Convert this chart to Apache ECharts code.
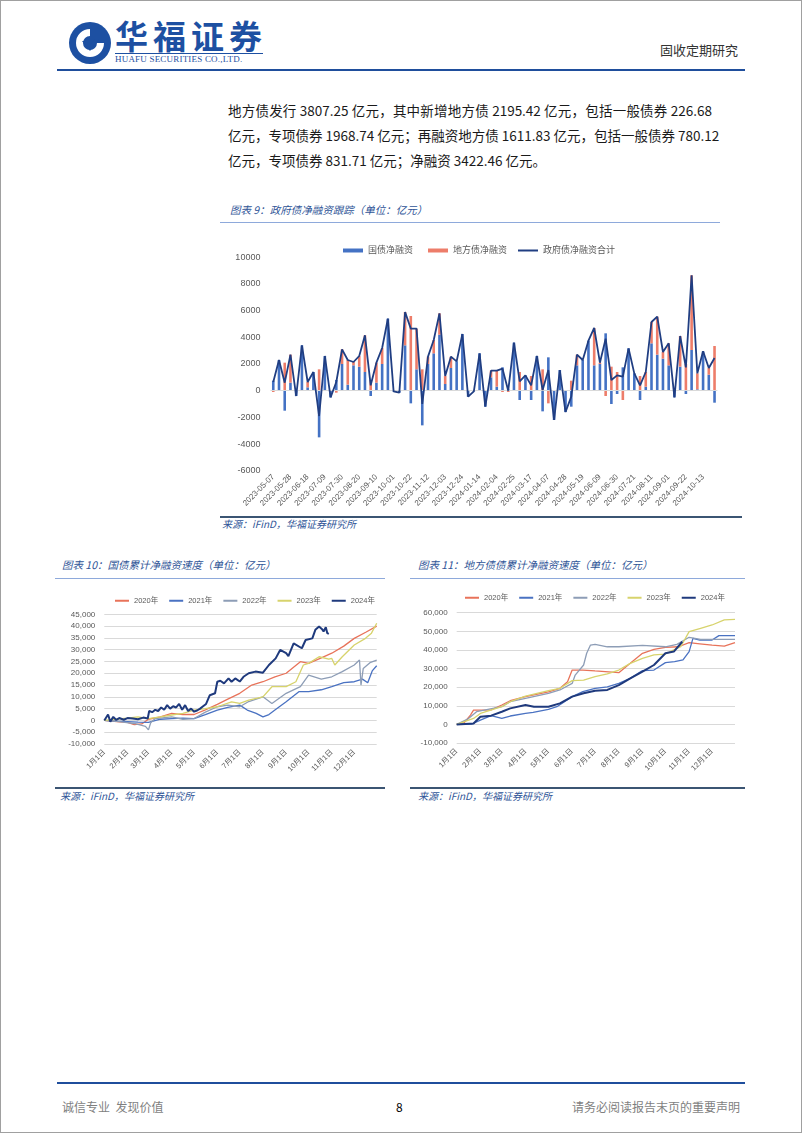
<!DOCTYPE html>
<html lang="zh-CN">
<head>
<meta charset="utf-8">
<title>政府债净融资跟踪</title>
<script src="https://cdn.jsdelivr.net/npm/echarts@6/dist/echarts.min.js"></script>
<style>
 html,body{margin:0;padding:0;background:#fff;}
 body{width:802px;height:1133px;position:relative;overflow:hidden;font-family:"Noto Sans CJK SC","Noto Sans",sans-serif;color:#222;}
 .a{position:absolute;white-space:nowrap;}
 .frame{position:absolute;left:0;top:0;width:800px;height:1131px;border:1px solid #a0a0a0;}
 .para{position:absolute;left:228px;width:484px;font-size:13.5px;line-height:18px;color:#1a1a1a;white-space:nowrap;}
 .just{text-align:justify;text-align-last:justify;}
 .ttl{position:absolute;font-style:italic;font-size:10.5px;line-height:14px;color:#2F5597;white-space:nowrap;}
 .tline{position:absolute;height:1px;background:#8EA9DB;}
 .bline{position:absolute;height:2px;background:#3B5573;}
 .src{position:absolute;font-style:italic;font-size:10px;line-height:12px;color:#2F5597;white-space:nowrap;}
 .chart{position:absolute;}
</style>
</head>
<body>
<div class="frame"></div>

<!-- header -->
<svg class="a" style="left:68px;top:21px" width="44" height="44" viewBox="0 0 44 44">
  <circle cx="22" cy="22" r="21" fill="#1D50A2"/>
  <path d="M22 8 A14 14 0 1 0 36 22 L29 22 A7 7 0 1 1 22 15 Z" fill="#fff"/>
  <path d="M14 20 L22 30 L31 18 L27 18 L22 24 L18 20 Z" fill="#1D50A2"/>
</svg>
<div class="a" style="left:115px;top:19px;font-size:33px;line-height:33px;font-weight:700;color:#1D50A2;letter-spacing:5px;">华福证券</div>
<div class="a" style="left:115px;top:53px;width:148px;height:1px;background:#1D50A2;"></div>
<div class="a" style="left:115px;top:55px;font-family:'Liberation Serif',serif;font-size:9px;line-height:9px;color:#1D50A2;letter-spacing:0.2px;">HUAFU SECURITIES CO.,LTD.</div>
<div class="a" style="left:660px;top:43px;font-size:13px;line-height:14px;color:#333;">固收定期研究</div>
<div class="a" style="left:57px;top:69px;width:688px;height:2px;background:#1F4E9C;"></div>

<!-- paragraph -->
<div class="para just" style="top:101px;">地方债发行 3807.25 亿元，其中新增地方债 2195.42 亿元，包括一般债券 226.68</div>
<div class="para just" style="top:126px;">亿元，专项债券 1968.74 亿元；再融资地方债 1611.83 亿元，包括一般债券 780.12</div>
<div class="para" style="top:151px;">亿元，专项债券 831.71 亿元；净融资 3422.46 亿元。</div>

<!-- chart 9 -->
<div class="ttl" style="left:230px;top:203px;">图表 9：政府债净融资跟踪（单位：亿元）</div>
<div class="tline" style="left:220px;top:222px;width:500px;"></div>
<div id="c9" class="chart" style="left:220px;top:228px;width:530px;height:288px;"></div>
<div class="bline" style="left:220px;top:516px;width:522px;"></div>
<div class="src" style="left:222px;top:518px;">来源：iFinD，华福证券研究所</div>

<!-- chart 10 -->
<div class="ttl" style="left:62px;top:558px;">图表 10：国债累计净融资速度（单位：亿元）</div>
<div class="tline" style="left:55px;top:578px;width:330px;"></div>
<div id="c10" class="chart" style="left:55px;top:582px;width:330px;height:205px;"></div>
<div class="bline" style="left:55px;top:787px;width:330px;"></div>
<div class="src" style="left:60px;top:790px;">来源：iFinD，华福证券研究所</div>

<!-- chart 11 -->
<div class="ttl" style="left:418px;top:558px;">图表 11：地方债债累计净融资速度（单位：亿元）</div>
<div class="tline" style="left:410px;top:578px;width:335px;"></div>
<div id="c11" class="chart" style="left:410px;top:582px;width:335px;height:205px;"></div>
<div class="bline" style="left:410px;top:787px;width:335px;"></div>
<div class="src" style="left:418px;top:790px;">来源：iFinD，华福证券研究所</div>

<!-- footer -->
<div class="a" style="left:57px;top:1082px;width:688px;height:2px;background:#1F4E9C;"></div>
<div class="a" style="left:62px;top:1100px;font-size:12px;line-height:14px;color:#7F7F7F;">诚信专业&nbsp;&nbsp;发现价值</div>
<div class="a" style="left:396px;top:1100px;font-size:12px;line-height:14px;color:#000;">8</div>
<div class="a" style="right:62px;top:1100px;font-size:12px;line-height:14px;color:#7F7F7F;">请务必阅读报告末页的重要声明</div>

<script>
// ---------- Chart 9 data (weekly, 亿元) ----------
const weeks = [
 '2023-05-07','2023-05-14','2023-05-21','2023-05-28','2023-06-04','2023-06-11','2023-06-18','2023-06-25',
 '2023-07-02','2023-07-09','2023-07-16','2023-07-23','2023-07-30','2023-08-06','2023-08-13','2023-08-20','2023-08-27',
 '2023-09-03','2023-09-10','2023-09-17','2023-09-24','2023-10-01','2023-10-08','2023-10-15','2023-10-22','2023-10-29',
 '2023-11-05','2023-11-12','2023-11-19','2023-11-26','2023-12-03','2023-12-10','2023-12-17','2023-12-24','2023-12-31',
 '2024-01-07','2024-01-14','2024-01-21','2024-01-28','2024-02-04','2024-02-11','2024-02-18','2024-02-25',
 '2024-03-03','2024-03-10','2024-03-17','2024-03-24','2024-03-31','2024-04-07','2024-04-14','2024-04-21','2024-04-28',
 '2024-05-05','2024-05-12','2024-05-19','2024-05-26','2024-06-02','2024-06-09','2024-06-16','2024-06-23','2024-06-30',
 '2024-07-07','2024-07-14','2024-07-21','2024-07-28','2024-08-04','2024-08-11','2024-08-18','2024-08-25',
 '2024-09-01','2024-09-08','2024-09-15','2024-09-22','2024-09-29','2024-10-06','2024-10-13','2024-10-20','2024-10-27'
];
const govNet = [750,2300,-1500,600,-400,3400,250,1400,-3500,2600,-500,800,2000,450,1900,1800,1400,
 -400,600,2000,5400,-50,-150,3400,-950,1600,-2600,2000,2800,4200,500,1700,2200,4250,-450,
 -50,2800,-1200,1000,300,1750,100,3600,-700,1150,-700,2600,-1550,2500,-2200,1550,-1600,
 -1200,1900,2300,3750,1900,2000,4300,-1000,-250,1750,3175,1300,-700,300,3550,2700,2400,
 1900,-500,1800,-250,3050,100,2950,1200,-900];
const localNet = [-100,0,2100,2100,0,0,400,0,1600,0,0,-150,1100,1850,250,800,2750,
 800,1500,1200,0,0,0,2500,5600,3050,1600,550,1000,1600,600,850,0,0,0,
 0,0,0,500,1200,-100,-100,0,1400,0,1100,0,1600,-950,0,0,0,
 750,800,0,0,2800,100,-400,1800,1400,-700,0,0,1100,1100,1600,2850,500,
 1650,0,2300,2000,5600,1200,0,500,3350];
const totalNet = [650,2300,600,2700,-400,3400,650,1400,-1900,2600,-500,650,3100,2300,2150,2600,4150,
 400,2100,3200,5400,-50,-150,5900,4650,4650,-1000,2550,3800,5800,1100,2550,2200,4250,-450,
 -50,2800,-1200,1500,1500,1650,0,3600,700,1150,400,2600,50,1550,-2200,1550,-1600,
 -450,2700,2300,3750,4700,2100,3900,800,1150,1050,3175,1300,400,1400,5150,5550,2900,
 3550,-500,4100,1750,8650,1300,2950,1700,2450];

// ---------- Charts 10/11: day-of-year axis ----------
const monthNames = ['1月','2月','3月','4月','5月','6月','7月','8月','9月','10月','11月','12月'];
const monthDays = [31,28,31,30,31,30,31,31,30,31,30,31];

// 国债累计净融资 [dayIndex, 亿元]
const nat2020 = [[0,0],[10,-300],[20,-600],[31,-800],[40,-1800],[50,-1500],[59,500],[75,1500],[90,3000],[105,2500],[120,2500],[135,4500],[151,6800],[165,9000],[181,11500],[197,15000],[212,16400],[228,18500],[243,20000],[262,24900],[273,24200],[290,26500],[304,28500],[320,31500],[334,34800],[350,37500],[364,40000]];
const nat2021 = [[0,0],[15,-300],[31,-500],[45,-700],[59,-800],[75,500],[90,800],[105,1000],[120,800],[135,2500],[151,4400],[165,5500],[181,6500],[191,4400],[203,3000],[212,1500],[220,2500],[228,4400],[243,7900],[260,12200],[273,12200],[290,13000],[304,14300],[320,16000],[334,16400],[345,17500],[352,16000],[358,21000],[364,23200]];
const nat2022 = [[0,0],[20,-500],[40,-1300],[55,-2500],[59,-4000],[62,-1000],[68,800],[90,1500],[105,500],[120,800],[135,3500],[151,5800],[165,6500],[181,5800],[193,8000],[212,10000],[224,7200],[243,11500],[262,14300],[273,19200],[290,17500],[304,18500],[318,20700],[334,23500],[341,25600],[343,15000],[346,22000],[355,24500],[364,25600]];
const nat2023 = [[0,0],[15,500],[31,1000],[45,1500],[59,800],[75,1500],[90,2300],[105,3000],[120,4400],[135,5000],[151,5800],[170,7900],[181,7200],[193,8600],[212,10000],[224,14300],[243,14300],[256,16400],[266,23500],[273,24200],[287,27000],[300,26000],[304,26300],[308,23500],[318,27000],[334,32000],[349,34800],[357,37000],[364,41200]];
const nat2024 = [[0,0],[5,2500],[8,-500],[12,1500],[16,200],[20,1000],[26,300],[31,1000],[38,800],[45,500],[52,1200],[58,800],[60,4000],[64,3500],[68,4500],[72,4000],[76,5500],[80,4500],[84,6500],[88,5000],[92,6000],[96,5500],[100,7000],[104,4500],[108,6500],[112,4000],[116,5000],[120,3700],[124,4200],[128,5000],[132,6000],[136,7000],[141,10700],[148,11500],[151,16400],[155,16800],[160,15700],[166,17800],[170,16400],[175,17800],[181,16500],[186,18500],[193,20000],[202,20700],[212,20250],[220,23500],[229,26300],[235,29900],[243,28500],[246,27300],[253,32700],[264,30600],[269,34100],[278,34800],[282,38400],[287,39800],[291,38700],[293,37700],[296,39500],[298,37000],[300,36700]];

// 地方债累计净融资 [dayIndex, 亿元]
const loc2020 = [[0,0],[10,1000],[18,5000],[22,7700],[31,7700],[45,7800],[59,10400],[70,12700],[90,14900],[120,17500],[135,19400],[145,22900],[151,29200],[165,29200],[181,28700],[212,27800],[227,32800],[243,38200],[258,40300],[273,41400],[290,41700],[304,43900],[318,43300],[334,42600],[350,42000],[364,43900]];
const loc2021 = [[0,0],[20,200],[31,2300],[45,4700],[59,3200],[70,4500],[90,5900],[100,6500],[120,8100],[131,9500],[151,14900],[165,17600],[181,19400],[197,20200],[212,22000],[227,24700],[243,28900],[258,29200],[273,33200],[285,33700],[296,34600],[304,39100],[309,46200],[318,45300],[334,45300],[343,47700],[364,47700]];
const loc2022 = [[0,0],[15,3000],[26,6800],[59,9500],[70,12200],[90,14000],[120,16700],[135,18500],[151,22000],[155,26500],[166,31900],[170,38200],[175,42600],[181,43000],[197,41700],[212,41700],[243,42500],[273,41700],[288,43000],[304,46800],[319,45700],[334,45700],[364,45700]];
const loc2023 = [[0,0],[22,3200],[31,5900],[59,9500],[70,12200],[90,15200],[120,18100],[135,19400],[151,23500],[166,23800],[181,25600],[197,27100],[212,29200],[227,32800],[243,35500],[258,37300],[273,37800],[284,40000],[293,41700],[304,49800],[319,51600],[334,53400],[350,56100],[364,56400]];
const loc2024 = [[0,0],[22,500],[31,4100],[45,4700],[59,6800],[70,8600],[90,10400],[101,9500],[120,9500],[135,11300],[151,14900],[166,16700],[181,18100],[197,18500],[212,21100],[227,24700],[243,28300],[258,31900],[273,38200],[284,39100],[295,44400]];

const yearNames = ['2020年','2021年','2022年','2023年','2024年'];
const yearColors = ['#E8735A','#4A72C2','#8D9DB6','#D7D36C','#1F3A7D'];

// ---------- build ----------
const FONT = "'Liberation Sans','Noto Sans CJK SC',sans-serif";
const GRAY = '#595959';

const c9 = echarts.init(document.getElementById('c9'), null, {renderer:'canvas'});
c9.setOption({
  animation:false,
  textStyle:{fontFamily:FONT},
  legend:[
    {left:118, top:13, itemWidth:20, itemHeight:4, itemGap:15,
     textStyle:{fontSize:9, color:GRAY, fontFamily:FONT},
     data:[{name:'国债净融资',icon:'rect'},{name:'地方债净融资',icon:'rect'}]},
    {left:293, top:13, itemWidth:20, itemHeight:2,
     textStyle:{fontSize:9, color:GRAY, fontFamily:FONT},
     data:[{name:'政府债净融资合计',icon:'rect'}]}
  ],
  grid:{left:50.4, top:29.3, width:447, height:213.4},
  xAxis:{
    type:'category', data:weeks, boundaryGap:true,
    axisLine:{show:false}, axisTick:{show:false},
    axisLabel:{interval:2, rotate:45, fontSize:8, color:GRAY, margin:5, fontFamily:FONT}
  },
  yAxis:{
    type:'value', min:-6000, max:10000, interval:2000,
    axisLine:{show:false}, axisTick:{show:false}, splitLine:{show:false},
    axisLabel:{fontSize:9, color:GRAY, margin:10, fontFamily:FONT, formatter:(v)=>String(v)}
  },
  series:[
    {name:'国债净融资', type:'bar', stack:'net', data:govNet, barWidth:2.6, itemStyle:{color:'#4472C4'},
     markLine:{silent:true, symbol:'none', label:{show:false}, lineStyle:{color:'#D9D9D9', type:'solid', width:1}, data:[{yAxis:0}]}},
    {name:'地方债净融资', type:'bar', stack:'net', data:localNet, barWidth:2.6, itemStyle:{color:'#ED7D6A'}},
    {name:'政府债净融资合计', type:'line', data:totalNet, symbol:'none', lineStyle:{color:'#203E82', width:1.8}, itemStyle:{color:'#203E82'}, z:5}
  ]
});

function dayCats(){
  const cats = [], starts = [];
  monthDays.forEach((n, m) => {
    starts.push(cats.length);
    for (let d = 1; d <= n; d++) cats.push(monthNames[m] + d + '日');
  });
  return {cats, starts};
}
const {cats: dayLabels, starts: monthStarts} = dayCats();

function cumChart(id, grid, legendLeft, legendTop, yMin, yMax, yInt, seriesArr){
  const ch = echarts.init(document.getElementById(id), null, {renderer:'canvas'});
  ch.setOption({
    animation:false,
    textStyle:{fontFamily:FONT},
    legend:{
      left:legendLeft, top:legendTop, itemWidth:14, itemHeight:2, itemGap:11,
      textStyle:{fontSize:7.5, color:GRAY, fontFamily:FONT},
      data:yearNames.map(n => ({name:n, icon:'rect'}))
    },
    grid:grid,
    xAxis:{
      type:'category', data:dayLabels, boundaryGap:false,
      axisLine:{show:false}, axisTick:{show:false},
      axisLabel:{interval:(i)=>monthStarts.indexOf(i) >= 0, rotate:45, fontSize:7.5, color:GRAY, margin:7, fontFamily:FONT}
    },
    yAxis:{
      type:'value', min:yMin, max:yMax, interval:yInt,
      axisLine:{show:false}, axisTick:{show:false},
      splitLine:{show:true, lineStyle:{color:'#D9D9D9', width:1}},
      axisLabel:{fontSize:8, color:GRAY, margin:9, fontFamily:FONT,
        formatter:(v)=>v.toLocaleString('en-US')}
    },
    series: seriesArr.map((d, k) => ({
      name:yearNames[k], type:'line', data:d, symbol:'none', showSymbol:false,
      lineStyle:{color:yearColors[k], width: k === 4 ? 2 : 1.3},
      itemStyle:{color:yearColors[k]}, z: 2 + k
    }))
  });
}

cumChart('c10', {left:49.3, top:32.3, width:272.4, height:129.7}, 55, 10, -10000, 45000, 5000,
  [nat2020, nat2021, nat2022, nat2023, nat2024]);
cumChart('c11', {left:46.7, top:30.7, width:278.3, height:130.3}, 50, 7, -10000, 60000, 10000,
  [loc2020, loc2021, loc2022, loc2023, loc2024]);
</script>
</body>
</html>
